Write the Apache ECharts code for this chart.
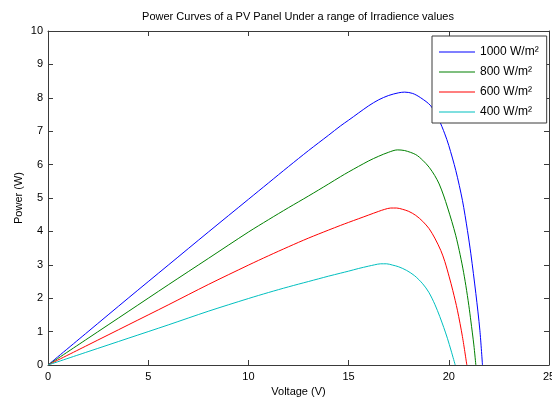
<!DOCTYPE html>
<html>
<head>
<meta charset="utf-8">
<script src="https://cdn.jsdelivr.net/npm/echarts@6/dist/echarts.min.js"></script>
<style>
  html, body { margin: 0; padding: 0; background: #fff; }
  #main { width: 552px; height: 399px; }
</style>
</head>
<body>
<div id="main"></div>
<script>
// PV power curves, values as [voltage, power]
var names = ['1000 W/m\u00B2', '800 W/m\u00B2', '600 W/m\u00B2', '400 W/m\u00B2'];
var colors = ['#0000ff', '#008000', '#ff0000', '#00bfbf'];

var g1000 = [[0,0],[2,1.0],[4,2.0],[6,2.99],[8,3.98],[10,4.96],[11,5.45],[12,5.94],[13,6.42],[14,6.88],
  [14.6,7.16],[15,7.33],[16,7.76],[16.5,7.94],[17,8.07],[17.5,8.15],[17.8,8.17],[18.2,8.13],[18.6,8.0],
  [19.1,7.76],[19.5,7.35],[19.8,6.92],[20.0,6.57],[20.35,5.82],[20.68,4.93],[20.93,4.03],[21.1,3.33],
  [21.35,2.14],[21.55,1.04],[21.68,0]];
var g800 = [[0,0],[2,0.8],[4,1.6],[6,2.4],[8,3.19],[10,3.98],[11,4.35],[12,4.71],[13,5.06],[14,5.42],
  [14.6,5.64],[15,5.78],[16,6.11],[16.5,6.25],[17,6.37],[17.43,6.44],[17.8,6.42],[18.35,6.3],[18.7,6.13],
  [19.02,5.92],[19.3,5.67],[19.52,5.42],[19.75,5.06],[19.93,4.73],[20.15,4.3],[20.35,3.87],[20.52,3.43],
  [20.7,2.9],[20.85,2.38],[21.0,1.78],[21.1,1.32],[21.25,0.6],[21.35,0]];
var g600 = [[0,0],[2,0.6],[4,1.2],[6,1.8],[8,2.41],[10,2.99],[11,3.27],[12,3.54],[13,3.8],[14,4.04],
  [14.6,4.18],[15,4.27],[16,4.49],[16.5,4.6],[16.8,4.66],[17.1,4.7],[17.4,4.7],[17.7,4.66],[18,4.6],
  [18.35,4.48],[18.7,4.3],[19.02,4.08],[19.3,3.8],[19.6,3.43],[19.8,3.1],[20.02,2.64],[20.2,2.23],
  [20.43,1.64],[20.68,0.85],[20.9,0]];
var g400 = [[0,0],[2,0.4],[4,0.8],[6,1.2],[8,1.61],[10,1.99],[11,2.17],[12,2.34],[13,2.5],[14,2.66],
  [14.6,2.75],[15,2.81],[15.5,2.89],[16,2.96],[16.3,3.0],[16.6,3.03],[16.9,3.03],[17.2,2.99],[17.5,2.94],
  [17.9,2.83],[18.3,2.67],[18.7,2.43],[19.0,2.18],[19.3,1.82],[19.55,1.45],[19.75,1.12],[19.93,0.8],
  [20.12,0.42],[20.32,0]];

var xMin = 0, xMax = 25, xStep = 5;
var yMin = 0, yMax = 10, yStep = 1;

var font = 'Liberation Sans, Arial, Helvetica, sans-serif';
var chart = echarts.init(document.getElementById('main'));

function axisBase(extra) {
    var a = {
        type: 'value',
        axisLine: { show: true, onZero: false, lineStyle: { color: '#3a3a3a', width: 1 } },
        axisTick: { show: true, inside: true, length: 5, lineStyle: { color: '#3a3a3a' } },
        splitLine: { show: false },
        axisLabel: { color: '#000', fontSize: 11, fontFamily: font }
    };
    for (var k in extra) a[k] = extra[k];
    return a;
}

var allData = [g1000, g800, g600, g400];
var series = [];
for (var i = 0; i < allData.length; i++) {
    series.push({
        name: names[i],
        type: 'line',
        data: allData[i],
        smooth: 0.3,
        symbol: 'none',
        lineStyle: { color: colors[i], width: 1 },
        itemStyle: { color: colors[i] },
        animation: false
    });
}

var option = {
    backgroundColor: '#fff',
    animation: false,
    title: {
        text: 'Power Curves of a PV Panel Under a range of Irradience values',
        left: 298,
        textAlign: 'center',
        top: 11,
        padding: 0,
        textStyle: { fontSize: 11, fontWeight: 'normal', color: '#000', fontFamily: font }
    },
    grid: { left: 48, right: 3, top: 31, bottom: 34, outerBoundsMode: 'none' },
    legend: {
        orient: 'vertical',
        left: 432,
        top: 36,
        padding: [10, 8, 5, 7],
        itemGap: 8,
        itemWidth: 36,
        itemHeight: 1,
        icon: 'rect',
        borderColor: '#3a3a3a',
        borderWidth: 1,
        backgroundColor: '#fff',
        textStyle: { fontSize: 12, color: '#000', fontFamily: font, lineHeight: 12 },
        data: names
    },
    xAxis: [
        axisBase({
            min: xMin, max: xMax, interval: xStep, position: 'bottom',
            name: 'Voltage (V)', nameLocation: 'middle', nameGap: 20,
            nameTextStyle: { fontSize: 11, color: '#000', fontFamily: font },
            axisLabel: { color: '#000', fontSize: 11, fontFamily: font, margin: 6 }
        }),
        axisBase({ min: xMin, max: xMax, interval: xStep, position: 'top', axisLabel: { show: false } })
    ],
    yAxis: [
        axisBase({
            min: yMin, max: yMax, interval: yStep, position: 'left',
            name: 'Power (W)', nameLocation: 'middle', nameGap: 24, nameMoveOverlap: false,
            nameTextStyle: { fontSize: 11, color: '#000', fontFamily: font },
            axisLabel: { color: '#000', fontSize: 11, fontFamily: font, margin: 5 }
        }),
        axisBase({ min: yMin, max: yMax, interval: yStep, position: 'right', axisLabel: { show: false } })
    ],
    series: series
};

chart.setOption(option);
</script>
</body>
</html>
